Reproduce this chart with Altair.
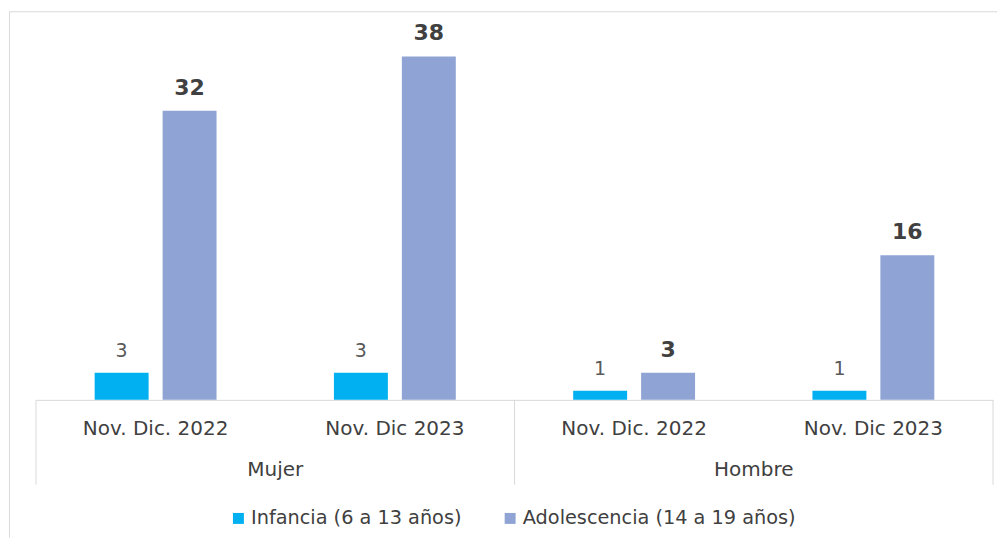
import altair as alt
import pandas as pd

sexes = ["Mujer", "Mujer", "Hombre", "Hombre"]
periods = ["Nov. Dic. 2022", "Nov. Dic 2023", "Nov. Dic. 2022", "Nov. Dic 2023"]
infancia = [3, 3, 1, 1]
adolescencia = [32, 38, 3, 16]
series_names = ["Infancia (6 a 13 años)", "Adolescencia (14 a 19 años)"]
series_colors = ["#00B0F0", "#8FA4D4"]
group_names = ["Mujer", "Hombre"]

FONT = "DejaVu Sans"

keys = [f"{s}|{p}" for s, p in zip(sexes, periods)]
rows = []
for k, s, p, a, b in zip(keys, sexes, periods, infancia, adolescencia):
    rows.append({"key": k, "sex": s, "period": p, "serie": series_names[0], "value": a})
    rows.append({"key": k, "sex": s, "period": p, "serie": series_names[1], "value": b})
df = pd.DataFrame(rows)

first_keys = [keys[sexes.index(g)] for g in group_names]
last_key = keys[-1]
second_keys = [keys[len(sexes) - 1 - sexes[::-1].index(g)] for g in group_names]

H = 380
W = 958

x_enc = alt.X(
    "key:N",
    sort=keys,
    scale=alt.Scale(domain=keys, paddingInner=0, paddingOuter=0),
    axis=alt.Axis(
        title=None,
        labelExpr="split(datum.label, '|')[1]",
        labelAngle=0,
        ticks=False,
        tickSize=0,
        labelPadding=29,
        labelBaseline="middle",
        labelFont=FONT,
        labelFontSize=20,
        labelColor="#404040",
        labelLimit=400,
        domainColor="#D9D9D9",
        domainWidth=1,
        grid=False,
    ),
)

y_scale = alt.Scale(domain=[0, 42])

base = alt.Chart(df)

bars = base.mark_bar().encode(
    x=x_enc,
    xOffset=alt.XOffset(
        "serie:N",
        sort=series_names,
        scale=alt.Scale(domain=series_names, paddingInner=0.206, paddingOuter=0.864),
    ),
    y=alt.Y("value:Q", scale=y_scale, axis=None),
    color=alt.Color(
        "serie:N",
        sort=series_names,
        scale=alt.Scale(domain=series_names, range=series_colors),
        legend=alt.Legend(
            title=None,
            orient="none",
            legendX=193,
            legendY=489,
            direction="horizontal",
            symbolType="square",
            symbolSize=120,
            symbolStrokeWidth=0,
            labelFont=FONT,
            labelFontSize=19.3,
            labelColor="#404040",
            labelLimit=400,
            labelOffset=3,
            columnPadding=39,
        ),
    ),
)

lab_inf = base.transform_filter(alt.datum.serie == series_names[0]).mark_text(
    baseline="bottom", dy=-12, font=FONT, fontSize=19, color="#595959"
).encode(
    x=alt.X("key:N", sort=keys),
    xOffset=alt.XOffset("serie:N", sort=series_names),
    y=alt.Y("value:Q", scale=y_scale),
    text=alt.Text("value:Q"),
)

lab_ado = base.transform_filter(alt.datum.serie == series_names[1]).mark_text(
    baseline="bottom", dy=-11, font=FONT, fontSize=22, fontWeight="bold", color="#404040"
).encode(
    x=alt.X("key:N", sort=keys),
    xOffset=alt.XOffset("serie:N", sort=series_names),
    y=alt.Y("value:Q", scale=y_scale),
    text=alt.Text("value:Q"),
)

sep_df = pd.DataFrame({"key": first_keys})
sep_left = alt.Chart(sep_df).mark_rule(color="#D9D9D9", strokeWidth=1).encode(
    x=alt.X("key:N", sort=keys, bandPosition=0),
    y=alt.value(H),
    y2=alt.value(H + 85),
)
sep_right = alt.Chart(pd.DataFrame({"key": [last_key]})).mark_rule(color="#D9D9D9", strokeWidth=1).encode(
    x=alt.X("key:N", sort=keys, bandPosition=1),
    y=alt.value(H),
    y2=alt.value(H + 85),
)

grp_df = pd.DataFrame({"key": second_keys, "label": group_names})
grp_text = alt.Chart(grp_df).mark_text(
    font=FONT, fontSize=20, color="#404040", baseline="middle"
).encode(
    x=alt.X("key:N", sort=keys, bandPosition=0),
    y=alt.value(H + 70),
    text="label:N",
)

frame = alt.Chart(pd.DataFrame({"a": [0]}))
frame_top = frame.mark_rule(color="#D9D9D9", strokeWidth=1).encode(
    x=alt.value(-27), x2=alt.value(W + 4), y=alt.value(-8.5)
)
frame_left = frame.mark_rule(color="#D9D9D9", strokeWidth=1).encode(
    x=alt.value(-26.5), y=alt.value(-8.5), y2=alt.value(H + 138)
)

chart = alt.layer(
    frame_top, frame_left, bars, lab_inf, lab_ado, sep_left, sep_right, grp_text
).properties(
    width=W,
    height=H,
    padding={"left": 0, "top": 3, "right": 0, "bottom": 0},
).configure(background="white", view=alt.ViewConfig(stroke=None))

chart.save("out.html", embed_options={"renderer": "svg", "actions": False})
